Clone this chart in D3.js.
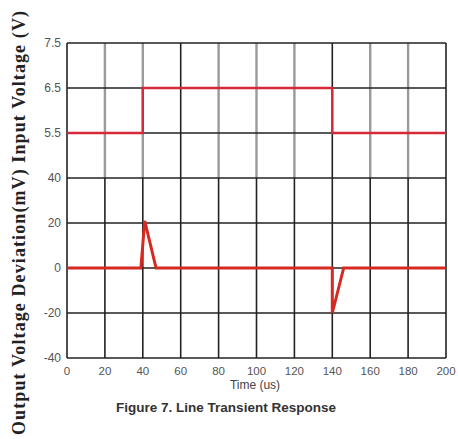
<!DOCTYPE html>
<html>
<head>
<meta charset="utf-8">
<script src="https://cdn.jsdelivr.net/npm/d3@7.9.0/dist/d3.min.js"></script>
<style>
  body { margin: 0; background: #fff; }
  svg { display: block; }
</style>
</head>
<body>
<svg width="458" height="439"></svg>
<script>
// Time axis
const timeTicks = [0, 20, 40, 60, 80, 100, 120, 140, 160, 180, 200];

// Upper panel: input voltage (V)
const inputTicks = [7.5, 6.5, 5.5];
const inputTime = [0, 40, 40, 140, 140, 200];
const inputVolts = [5.5, 5.5, 6.5, 6.5, 5.5, 5.5];

// Lower panel: output voltage deviation (mV)
const outputTicks = [40, 20, 0, -20, -40];
const outputTime = [0, 39, 41, 47, 140, 140, 146, 200];
const outputMv = [0, 0, 21, 0, 0, -20, 0, 0];

const svg = d3.select('svg');
const plotLeft = 67, plotRight = 446, plotTop = 43, plotBottom = 358;
const rowH = (plotBottom - plotTop) / 7;

const x = d3.scaleLinear().domain([0, 200]).range([plotLeft, plotRight]);
// input scale: 7.5 at top, 4.5 where the 40 mV line sits
const yIn = d3.scaleLinear().domain([4.5, 7.5]).range([plotTop + 3 * rowH, plotTop]);
const yOut = d3.scaleLinear().domain([-40, 40]).range([plotBottom, plotTop + 3 * rowH]);

// vertical grid: grey in upper panel, black in lower
const g = svg.append('g');
timeTicks.forEach((t) => {
  const dark = t === 0 || t === 60 || t === 140 || t === 200;
  g.append('line')
    .attr('x1', x(t)).attr('x2', x(t))
    .attr('y1', plotTop).attr('y2', yIn(4.5))
    .attr('stroke', dark ? '#222' : '#9a9a9a')
    .attr('stroke-width', dark ? 1.6 : 2.4);
  g.append('line')
    .attr('x1', x(t)).attr('x2', x(t))
    .attr('y1', yIn(4.5)).attr('y2', plotBottom)
    .attr('stroke', '#222')
    .attr('stroke-width', 1.6);
});

// horizontal grid
inputTicks.forEach((v) => {
  g.append('line')
    .attr('x1', plotLeft).attr('x2', plotRight)
    .attr('y1', yIn(v)).attr('y2', yIn(v))
    .attr('stroke', '#222').attr('stroke-width', 1.6);
});
outputTicks.forEach((v) => {
  g.append('line')
    .attr('x1', plotLeft).attr('x2', plotRight)
    .attr('y1', yOut(v)).attr('y2', yOut(v))
    .attr('stroke', '#222').attr('stroke-width', 1.6);
});

// tick labels
const tickFont = 'Liberation Sans, Arial, sans-serif';
inputTicks.forEach((v) => {
  svg.append('text')
    .attr('x', 61).attr('y', yIn(v) + 4)
    .attr('text-anchor', 'end')
    .attr('font-family', tickFont).attr('font-size', 12)
    .attr('fill', '#555')
    .text(v.toFixed(1));
});
outputTicks.forEach((v) => {
  svg.append('text')
    .attr('x', 61).attr('y', yOut(v) + 4)
    .attr('text-anchor', 'end')
    .attr('font-family', tickFont).attr('font-size', 12)
    .attr('fill', '#555')
    .text(v);
});
timeTicks.forEach((t) => {
  svg.append('text')
    .attr('x', x(t)).attr('y', 375)
    .attr('text-anchor', 'middle')
    .attr('font-family', tickFont).attr('font-size', 11.5)
    .attr('fill', '#555')
    .text(t);
});

// traces
const line = (ys) => d3.line()
  .x((d) => x(d[0]))
  .y((d) => ys(d[1]));

svg.append('path')
  .datum(d3.zip(inputTime, inputVolts))
  .attr('d', line(yIn))
  .attr('fill', 'none')
  .attr('stroke', '#d8283a')
  .attr('stroke-width', 2.4);

svg.append('path')
  .datum(d3.zip(outputTime, outputMv))
  .attr('d', line(yOut))
  .attr('fill', 'none')
  .attr('stroke', '#d42a22')
  .attr('stroke-width', 3);

// axis titles
svg.append('text')
  .attr('x', 255).attr('y', 389)
  .attr('text-anchor', 'middle')
  .attr('font-family', tickFont).attr('font-size', 12)
  .attr('fill', '#444')
  .text('Time (us)');

svg.append('text')
  .attr('transform', 'translate(25,223) rotate(-90)')
  .attr('text-anchor', 'middle')
  .attr('font-family', 'Liberation Serif, Times New Roman, serif')
  .attr('font-weight', 'bold')
  .attr('font-size', 18)
  .attr('textLength', 424)
  .attr('lengthAdjust', 'spacing')
  .attr('fill', '#222')
  .text('Output Voltage Deviation(mV) Input Voltage (V)');

svg.append('text')
  .attr('x', 226).attr('y', 412)
  .attr('text-anchor', 'middle')
  .attr('font-family', tickFont)
  .attr('font-weight', 'bold')
  .attr('font-size', 13.5)
  .attr('fill', '#333')
  .text('Figure 7. Line Transient Response');
</script>
</body>
</html>
